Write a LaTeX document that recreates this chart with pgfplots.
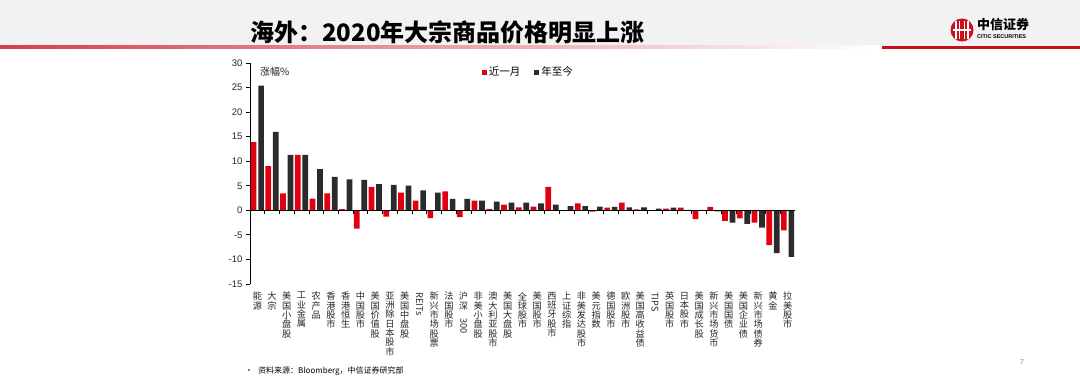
\documentclass[border=0pt]{standalone}
\usepackage{fontspec}
\setmainfont{Liberation Sans}
\newfontfamily\cjk{Noto Sans CJK SC}
\usepackage{graphicx}
\usepackage{pgfplots}
\usepackage{pgfplotstable}
\pgfplotsset{compat=1.18}
\definecolor{cred}{RGB}{225,0,18}
\definecolor{cblack}{RGB}{43,43,43}
\definecolor{band}{RGB}{242,242,242}
\definecolor{logored}{RGB}{200,16,30}

\pgfplotstableread{
idx month ytd
0 13.9 25.4
1 9.0 16.0
2 3.45 11.3
3 11.3 11.3
4 2.4 8.4
5 3.45 6.8
6 0.25 6.3
7 -3.7 6.2
8 4.8 5.35
9 -1.3 5.2
10 3.6 5.05
11 2.0 4.05
12 -1.6 3.6
13 3.85 2.35
14 -1.4 2.35
15 2.0 2.0
16 0.3 1.75
17 1.15 1.58
18 0.6 1.56
19 0.75 1.42
20 4.8 1.15
21 0.05 0.88
22 1.42 0.88
23 -0.27 0.75
24 0.54 0.68
25 1.56 0.6
26 0.2 0.6
27 0.05 0.35
28 0.35 0.54
29 0.54 0.1
30 -1.8 0.05
31 0.68 -0.2
32 -2.17 -2.5
33 -1.63 -2.78
34 -2.5 -3.5
35 -7.1 -8.7
36 -4.1 -9.5
}\data

\begin{document}
\begin{tikzpicture}
\begin{scope}[x=1pt,y=1pt]
\path[use as bounding box] (0,0) rectangle (1080,-377);
\fill[white] (0,0) rectangle (1080,-377);
\fill[band] (0,0) rectangle (1080,-46);
\shade[left color=logored!80, right color=white] (0,-46) rectangle (880,-49);
\fill[logored] (882,-46) rectangle (1080,-49);
\node[anchor=base west, inner sep=0pt, font=\cjk\bfseries\fontsize{24}{28}\selectfont] at (250,-42) {海外：2020年大宗商品价格明显上涨};
% logo
\fill[logored] (962,-30) circle (11.5);
\foreach \xx in {-6,-2.5,2.5,6} {\draw[white, line width=1.2pt] (962+\xx,-21) -- (962+\xx,-39);}
\draw[white, line width=1.2pt] (953,-30) -- (971,-30);
\node[anchor=base west, inner sep=0pt, font=\cjk\bfseries\fontsize{13}{14}\selectfont] at (977,-30) {中信证券};
\node[anchor=base west, inner sep=0pt, font=\bfseries\fontsize{5.5}{6}\selectfont] at (977,-38.5) {CITIC SECURITIES};
\node[anchor=base west, inner sep=0pt, font=\cjk\fontsize{8}{9}\selectfont] at (245,-373) {•\hspace{5pt}资料来源：Bloomberg，中信证券研究部};
\node[anchor=base, inner sep=0pt, font=\fontsize{7}{8}\selectfont, text=black!50] at (1022,-364) {7};
\end{scope}

\begin{axis}[
  at={(250pt,-284pt)}, anchor=south west,
  scale only axis, width=545pt, height=221pt,
  xmin=-0.5, xmax=36.5, ymin=-15, ymax=30,
  axis lines*=left,
  axis line style={-, black, line width=0.8pt},
  x axis line style={draw=none},
  ytick={-15,-10,...,30},
  tick align=outside,
  major tick length=4pt,
  ytick style={black, line width=0.8pt},
  xtick style={draw=none},
  yticklabel style={font=\fontsize{9.5}{11}\selectfont, text=black!85, /pgf/number format/assume math mode=true},
  ybar=1.8pt, bar width=5.7pt,
  xtick={0,...,36},
  xticklabels={{能\\源},{大\\宗},{美\\国\\小\\盘\\股},{工\\业\\金\\属},{农\\产\\品},{香\\港\\股\\市},{香\\港\\恒\\生},{中\\国\\股\\市},{美\\国\\价\\值\\股},{亚\\洲\\除\\日\\本\\股\\市},{美\\国\\中\\盘\\股},{\rotatebox{-90}{REITs}},{新\\兴\\市\\场\\股\\票},{法\\国\\股\\市},{沪\\深\\\rotatebox{-90}{300}},{非\\美\\小\\盘\\股},{澳\\大\\利\\亚\\股\\市},{美\\国\\大\\盘\\股},{全\\球\\股\\市},{美\\国\\股\\市},{西\\班\\牙\\股\\市},{上\\证\\综\\指},{非\\美\\发\\达\\股\\市},{美\\元\\指\\数},{德\\国\\股\\市},{欧\\洲\\股\\市},{美\\国\\高\\收\\益\\债},{\rotatebox{-90}{TIPS}},{英\\国\\股\\市},{日\\本\\股\\市},{美\\国\\成\\长\\股},{新\\兴\\市\\场\\货\\币},{美\\国\\国\\债},{美\\国\\企\\业\\债},{新\\兴\\市\\场\\债\\券},{黄\\金},{拉\\美\\股\\市}},
  xticklabel style={font=\cjk\fontsize{9.2}{9.3}\selectfont, text=black!85, align=center, anchor=north, inner sep=0pt, yshift=-4pt},
  legend columns=2,
  legend style={draw=none, fill=none, at={(0.425,0.959)}, anchor=west, inner sep=0pt, font=\cjk\fontsize{10.5}{12}\selectfont, /tikz/every even column/.append style={column sep=12pt}},
  legend image code/.code={\fill[#1] (0pt,-2.5pt) rectangle (5pt,2.5pt);},
  clip=false,
]
\addplot[fill=cred, draw=none] table[x=idx, y=month] {\data};
\addplot[fill=cblack, draw=none] table[x=idx, y=ytd] {\data};
\legend{近一月, 年至今}
\draw[black, line width=0.8pt] (axis cs:-0.5,0) -- (axis cs:36.5,0);
\pgfplotsinvokeforeach{0.5,1.5,...,35.5}{\draw[black, line width=0.8pt] (axis cs:#1,0) -- ([yshift=-3.5pt]axis cs:#1,0);}
\node[anchor=west, inner sep=0pt, font=\cjk\fontsize{10}{11}\selectfont, text=black!85] at (rel axis cs:0.018,0.959) {涨幅\%};
\end{axis}
\end{tikzpicture}
\end{document}
